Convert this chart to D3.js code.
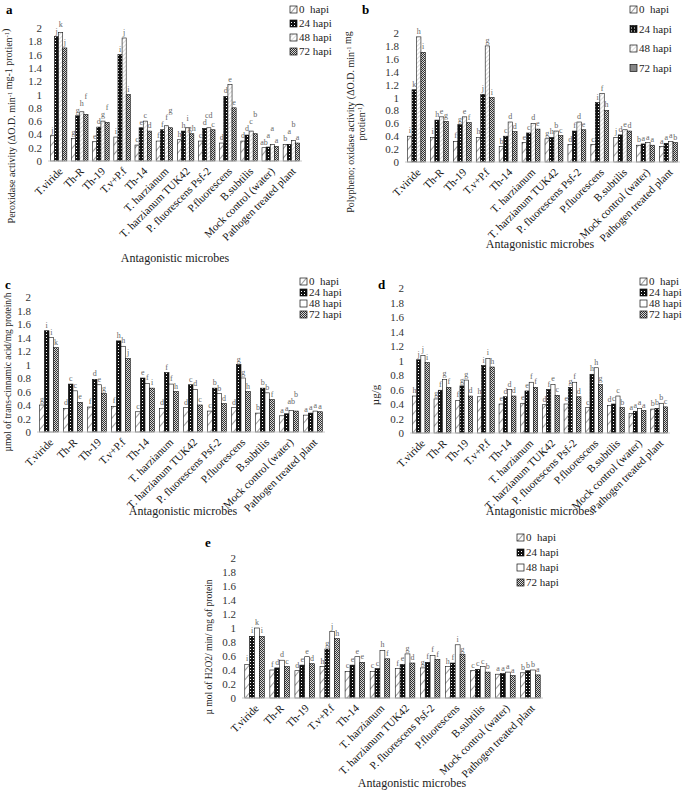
<!DOCTYPE html>
<html><head><meta charset="utf-8">
<script src="https://cdn.jsdelivr.net/npm/d3@7"></script>
<style>
html,body{margin:0;padding:0;background:#fff;}
svg{display:block;font-family:"Liberation Serif","Times New Roman",serif;}
</style></head>
<body><svg id="chart" width="685" height="798"></svg>
<script>
// ---------- DATA ----------
const categories = ["T.viride","Th-R","Th-19","T.v+P.f","Th-14","T. harzianum","T. harzianum TUK42","P. fluorescens Psf-2","P.fluorescens","B.subtilis","Mock control (water)","Pathogen treated plant"];
const seriesNames = ["0  hapi","24 hapi","48 hapi","72 hapi"];
const yTicks = [0,0.2,0.4,0.6,0.8,1,1.2,1.4,1.6,1.8,2];

// (a) Peroxidase
const poxValues = [
  [0.38,0.34,0.29,0.36,0.24,0.30,0.32,0.30,0.27,0.30,0.20,0.25],
  [1.87,0.68,0.51,1.60,0.50,0.47,0.45,0.49,0.97,0.39,0.21,0.25],
  [1.93,0.74,0.60,1.85,0.60,0.53,0.50,0.50,1.15,0.45,0.25,0.31],
  [1.70,0.70,0.58,1.00,0.45,0.50,0.41,0.47,0.80,0.41,0.22,0.27]];
const poxLetters = [
  ["j","g","e","i","c","f","h","c","d","d","ab","b"],
  ["j","g","d","i","e","f","h","d","d","d","a","a"],
  ["k","h","g","j","c","f","i","cd","e","c","a","b"],
  ["j","f","f","i","d","g","gh","c","e","b","a","a"]];

// (b) Polyphenol oxidase
const ppoValues = [
  [0.40,0.38,0.32,0.38,0.24,0.30,0.36,0.27,0.27,0.38,0.26,0.24],
  [1.12,0.65,0.58,1.05,0.40,0.45,0.38,0.48,0.92,0.42,0.28,0.29],
  [1.94,0.70,0.70,1.80,0.62,0.60,0.48,0.62,1.06,0.50,0.30,0.32],
  [1.70,0.63,0.61,1.00,0.47,0.51,0.41,0.50,0.80,0.48,0.26,0.30]];
const ppoLetters = [
  ["i","i","f","h","b","e","g","d","c","j","b","a"],
  ["k","h","g","j","c","c","h","f","i","d","a","a"],
  ["h","e","e","g","d","d","b","d","f","e","a","a"],
  ["i","g","f","i","d","e","c","e","h","d","a","b"]];

// (c) PAL
const palValues = [
  [0.40,0.35,0.37,0.38,0.30,0.35,0.36,0.31,0.36,0.28,0.24,0.25],
  [1.50,0.71,0.78,1.35,0.80,0.88,0.70,0.65,1.00,0.65,0.27,0.28],
  [1.40,0.61,0.70,1.27,0.72,0.71,0.63,0.57,0.80,0.58,0.32,0.31],
  [1.25,0.44,0.57,1.09,0.65,0.60,0.40,0.42,0.60,0.48,0.31,0.30]];
const palLetters = [
  ["g","d","f","f","c","d","d","c","d","b","a","a"],
  ["i","c","d","h","e","f","c","b","g","b","a","a"],
  ["i","c","e","h","f","f","d","b","g","b","ab","a"],
  ["k","e","g","j","i","h","c","d","h","f","b","a"]];

// (d) Phenol (µg/g)
const phenValues = [
  [0.51,0.47,0.45,0.50,0.40,0.41,0.39,0.40,0.35,0.38,0.27,0.33],
  [1.01,0.59,0.65,0.93,0.50,0.58,0.60,0.63,0.81,0.40,0.30,0.34],
  [1.07,0.74,0.73,1.03,0.60,0.70,0.67,0.70,0.90,0.51,0.34,0.41],
  [0.97,0.63,0.51,0.91,0.51,0.63,0.52,0.50,0.67,0.35,0.31,0.36]];
const phenLetters = [
  ["h","g","f","h","e","e","d","e","c","d","a","b"],
  ["j","f","g","i","d","e","f","g","h","c","a","b"],
  ["j","g","g","i","d","f","e","f","h","c","a","b"],
  ["i","f","d","h","d","f","c","d","g","b","a","c"]];

// (e) H2O2
const h2o2Values = [
  [0.48,0.40,0.39,0.45,0.38,0.38,0.42,0.43,0.45,0.39,0.34,0.36],
  [0.88,0.43,0.47,0.70,0.47,0.42,0.48,0.51,0.50,0.41,0.35,0.39],
  [1.00,0.54,0.59,0.95,0.59,0.68,0.63,0.61,0.76,0.45,0.37,0.40],
  [0.88,0.45,0.49,0.85,0.51,0.56,0.50,0.55,0.62,0.37,0.32,0.33]];
const h2o2Letters = [
  ["i","f","d","h","c","c","f","g","h","c","a","b"],
  ["i","d","e","g","e","c","e","f","f","c","a","b"],
  ["k","d","e","j","e","h","g","f","i","c","a","b"],
  ["i","c","d","h","e","f","d","f","g","b","a","a"]];

// ---------- DRAW ----------
const svg = d3.select("#chart");
const defs = svg.append("defs");

function pat(id, w, h, build, transform){
  const p = defs.append("pattern").attr("id", id).attr("patternUnits","userSpaceOnUse")
    .attr("width", w).attr("height", h);
  if (transform) p.attr("patternTransform", transform);
  build(p);
}
pat("p0", 6, 6, p => {
  p.append("rect").attr("width",6).attr("height",6).attr("fill","#fff");
  p.append("line").attr("x1",0).attr("y1",0).attr("x2",0).attr("y2",6).attr("stroke","#222").attr("stroke-width",0.9);
}, "rotate(40)");
pat("p24", 3, 3, p => {
  p.append("rect").attr("width",3).attr("height",3).attr("fill","#111");
  p.append("rect").attr("x",1).attr("y",1).attr("width",1).attr("height",1).attr("fill","#fff");
});
pat("p48a", 3, 3, p => {
  p.append("rect").attr("width",3).attr("height",3).attr("fill","#fff");
  p.append("line").attr("x1",0).attr("y1",0).attr("x2",0).attr("y2",3).attr("stroke","#999").attr("stroke-width",0.7);
}, "rotate(45)");
pat("p48", 4, 4, p => {
  p.append("rect").attr("width",4).attr("height",4).attr("fill","#fff");
});
pat("p72", 2, 2, p => {
  p.append("rect").attr("width",2).attr("height",2).attr("fill","#d8d8d8");
  p.append("rect").attr("width",1).attr("height",1).attr("fill","#333");
  p.append("rect").attr("x",1).attr("y",1).attr("width",1).attr("height",1).attr("fill","#333");
});

const panels = [
  {tag:"a", values:poxValues, letters:poxLetters, x0:48, x1:302, yTop:28, yBot:161,
   tagPos:[6,14], legend:[290,13,14], title:[175,262], p48:"p48a",
   ytitle:{x:15, y:126, fs:10, lines:[["Peroxidase activity (ΔO.D. min",["-1"]," mg-1 protien",["-1"],")"]]}},
  {tag:"b", values:ppoValues, letters:ppoLetters, x0:405, x1:680, yTop:33, yBot:162,
   tagPos:[362,14], legend:[630,13,19.5], title:[540,248], p48:"p48a",
   ytitle:{x:354, y:122, fs:10, lines:[["Polypheno; oxidase activity (ΔO.D. min",["-1"]," mg"],["protien",["-1"],")"]]}},
  {tag:"c", values:palValues, letters:palLetters, x0:37, x1:325, yTop:297, yBot:432,
   tagPos:[5,289], legend:[300,285,11], title:[183,515], p48:"p48",
   ytitle:{x:11, y:372, fs:9.5, lines:[["µmol of trans-cinnamic acid/mg protein/h"]]}},
  {tag:"d", values:phenValues, letters:phenLetters, x0:410, x1:670, yTop:288, yBot:433,
   tagPos:[378,289], legend:[640,285,11], title:[540,515], p48:"p48",
   ytitle:{x:379, y:395, fs:11, lines:[["µg/g"]]}},
  {tag:"e", values:h2o2Values, letters:h2o2Letters, x0:242, x1:543, yTop:558, yBot:698,
   tagPos:[205,547], legend:[517,541,15], title:[412,787], p48:"p48",
   ytitle:{x:212, y:647, fs:9.5, lines:[["µ mol of H2O2/ min/ mg of protein"]]}}
];

panels.forEach(P => {
  const g = svg.append("g");
  const fills = ["url(#p0)","url(#p24)","url(#"+P.p48+")","url(#p72)"];
  const x = d3.scaleBand().domain(categories).range([P.x0, P.x1]).paddingInner(0.22).paddingOuter(0.11);
  const xs = d3.scaleBand().domain(d3.range(seriesNames.length)).range([0, x.bandwidth()]);
  const y = d3.scaleLinear().domain([0, 2]).range([P.yBot, P.yTop]);

  g.append("text").attr("x",P.tagPos[0]).attr("y",P.tagPos[1]).attr("font-weight","bold")
    .attr("font-size",13).text(P.tag);

  const ya = d3.axisLeft(y).tickValues(yTicks).tickSize(0).tickPadding(6).tickFormat(d3.format("~g"));
  const yg = g.append("g").attr("transform",`translate(${P.x0},0)`).call(ya);
  yg.select(".domain").remove();
  yg.selectAll("text").attr("font-size",11).attr("fill","#333").attr("font-family","Liberation Serif");

  P.values.forEach((vals, si) => {
    g.append("g").selectAll("rect").data(vals).join("rect")
      .attr("x",(d,i)=>x(categories[i])+xs(si))
      .attr("y",d=>y(d))
      .attr("width",xs.bandwidth())
      .attr("height",d=>y(0)-y(d))
      .attr("fill",fills[si]).attr("stroke","#111").attr("stroke-width",0.6);
  });

  // significance letters, staggered upward like the original when they would collide
  categories.forEach((c, i) => {
    let prev = null;
    for (let si = 0; si < seriesNames.length; si++) {
      const txt = P.letters[si][i];
      const w = txt.length * 4.2;
      const cx = x(c) + xs(si) + xs.bandwidth()/2;
      let ty = y(P.values[si][i]) - 3;
      if (prev && Math.abs(prev.y - ty) < 8 && (cx - w/2) < prev.r) ty = Math.min(ty, prev.y - 7);
      g.append("text").attr("x",cx).attr("y",ty).attr("text-anchor","middle")
        .attr("font-size",8).attr("fill","#666").text(txt);
      prev = {y: ty, r: cx + w/2};
    }
  });

  const xa = d3.axisBottom(x).tickSize(0).tickPadding(6);
  const xg = g.append("g").attr("transform",`translate(0,${P.yBot})`).call(xa);
  xg.select(".domain").attr("stroke","#c8c8c8").attr("d",`M${P.x0},0H${P.x1}`);
  xg.selectAll("text").attr("font-size",11).attr("fill","#111").attr("font-family","Liberation Serif")
    .attr("text-anchor","end").attr("dy","0.35em")
    .attr("transform","translate(-2,4) rotate(-45)");

  g.append("text").attr("x",P.title[0]).attr("y",P.title[1]).attr("text-anchor","middle")
    .attr("font-size",12).attr("fill","#222").text("Antagonistic microbes");

  P.ytitle.lines.forEach((parts, li) => {
    const t = g.append("text")
      .attr("transform",`translate(${P.ytitle.x + li*11},${P.ytitle.y}) rotate(-90)`)
      .attr("text-anchor","middle").attr("font-size",P.ytitle.fs).attr("fill","#222");
    parts.forEach(pt => {
      if (Array.isArray(pt)) {
        t.append("tspan").attr("font-size",P.ytitle.fs*0.65).attr("dy",-3).text(pt[0]);
        t.append("tspan").attr("dy",3).text("");
      } else t.append("tspan").text(pt);
    });
  });

  const lg = g.append("g").attr("transform",`translate(${P.legend[0]},${P.legend[1]})`);
  seriesNames.forEach((s, si) => {
    const it = lg.append("g").attr("transform",`translate(0,${si*P.legend[2]})`);
    it.append("rect").attr("x",0).attr("y",-7).attr("width",7).attr("height",7)
      .attr("fill",fills[si]).attr("stroke","#111").attr("stroke-width",0.7);
    it.append("text").attr("x",9).attr("y",0).attr("font-size",11).attr("fill","#222")
      .attr("xml:space","preserve").text(s);
  });
});
</script></body></html>
